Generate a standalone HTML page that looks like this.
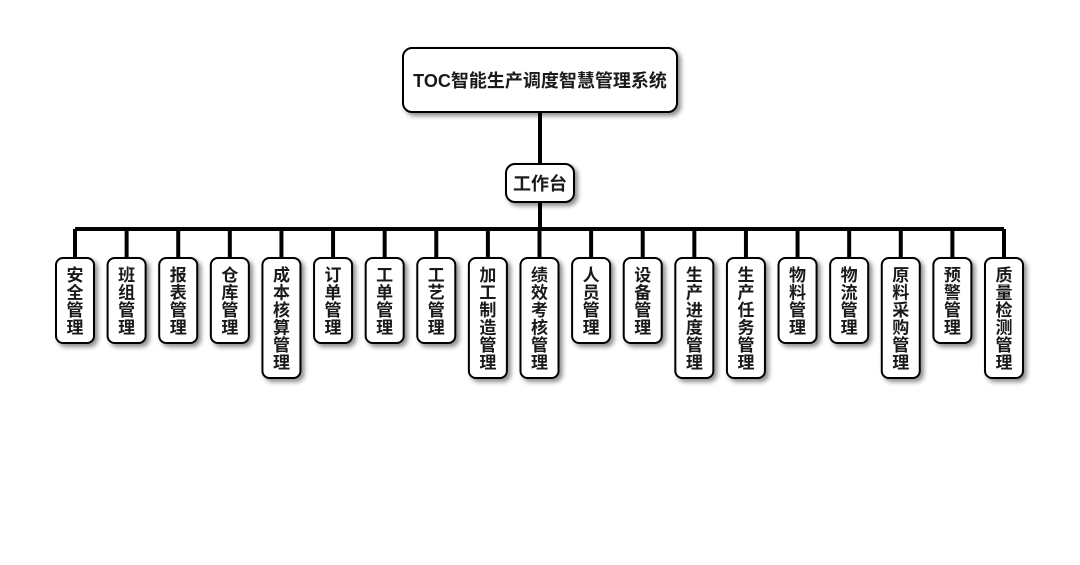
<!DOCTYPE html>
<html><head><meta charset="utf-8"><style>
body{margin:0;background:#fff;width:1080px;height:560px;overflow:hidden}
svg text{font-family:"Liberation Sans","Noto Sans CJK SC",sans-serif;font-weight:bold;fill:#1a1a1a}
</style></head><body>
<svg width="1080" height="560" xmlns="http://www.w3.org/2000/svg">
<defs><filter id="s" x="-30%" y="-30%" width="160%" height="160%"><feDropShadow dx="3" dy="3" stdDeviation="2.5" flood-color="#000" flood-opacity="0.45"/></filter></defs>
<g stroke="#000" stroke-width="4" fill="none">
<line x1="540" y1="112" x2="540" y2="164"/>
<line x1="540" y1="202" x2="540" y2="229"/>
<line x1="75" y1="229" x2="1004" y2="229"/>
</g>
<rect x="403" y="48" width="274" height="64" rx="9" fill="#fff" stroke="#000" stroke-width="2" filter="url(#s)"/>
<text x="540" y="87" font-size="18" text-anchor="middle">TOC智能生产调度智慧管理系统</text>
<rect x="506" y="164" width="68" height="38" rx="9" fill="#fff" stroke="#000" stroke-width="2" filter="url(#s)"/>
<text x="540" y="190" font-size="18" text-anchor="middle">工作台</text>
<g id="leaves"></g>
</svg>
<script>
var labels=["安全管理","班组管理","报表管理","仓库管理","成本核算管理","订单管理","工单管理","工艺管理","加工制造管理","绩效考核管理","人员管理","设备管理","生产进度管理","生产任务管理","物料管理","物流管理","原料采购管理","预警管理","质量检测管理"];
var g=document.getElementById("leaves"),h="";
labels.forEach(function(l,i){
var cx=75+i*(1004-75)/18;var hh=l.length==4?85:120;
h+='<line x1="'+cx+'" y1="229" x2="'+cx+'" y2="258" stroke="#000" stroke-width="4"/>';
h+='<rect x="'+(cx-19)+'" y="258" width="38" height="'+hh+'" rx="7" fill="#fff" stroke="#000" stroke-width="2" filter="url(#s)"/>';
for(var k=0;k<l.length;k++)h+='<text x="'+cx+'" y="'+(281+k*17.5)+'" font-size="17" text-anchor="middle">'+l[k]+'</text>';
});
g.innerHTML=h;
</script>
</body></html>
